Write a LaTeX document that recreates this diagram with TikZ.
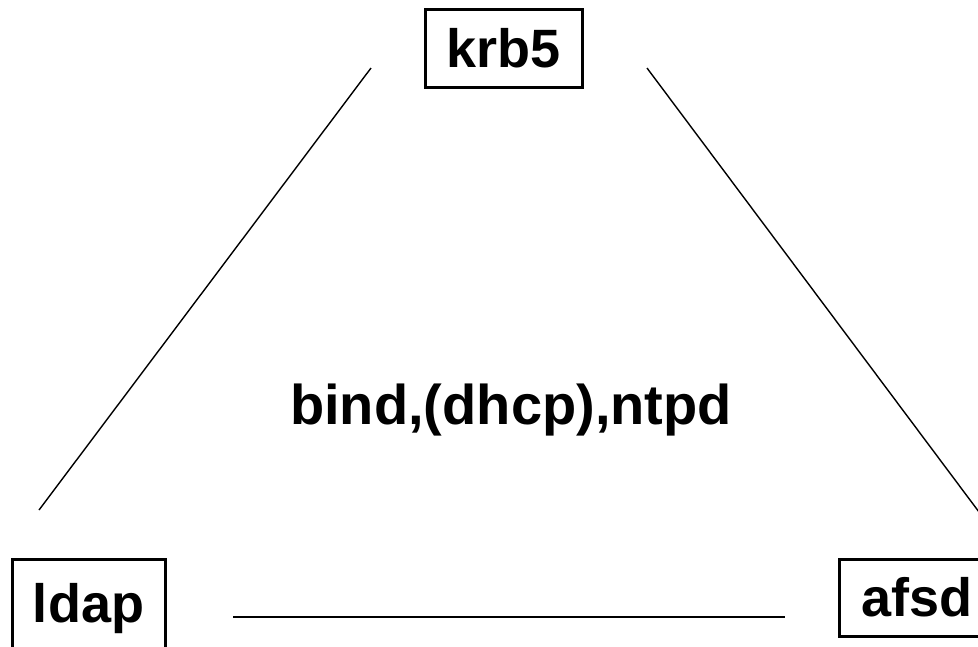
\documentclass[tikz,border=0pt]{standalone}
\usepackage{fontspec}
\setmainfont{Liberation Sans}
\begin{document}
\begin{tikzpicture}[x=1pt,y=-1pt,
  box/.style={draw=black,line width=3pt,inner sep=0pt,font=\fontsize{54}{60}\selectfont\bfseries},
  label/.style={inner sep=0pt,font=\fontsize{56}{62}\selectfont\bfseries},
  link/.style={draw=black,line width=1.4pt}]
\useasboundingbox (0,0) rectangle (978,646);
\clip (0,0) rectangle (978,646);
\node[box,minimum width=157pt,minimum height=78pt] (krb) at (503.5,48) {krb5};
\node[box,minimum width=153pt,minimum height=100pt] (ldap) at (88.5,609) {ldap};
\node[box,minimum width=156pt,minimum height=77pt] (afsd) at (917,597.5) {afsd};
\node[label] (mid) at (511,410) {bind,(dhcp),ntpd};
\coordinate (kl) at (371,68);
\coordinate (lk) at (39,510);
\coordinate (ka) at (647,68);
\coordinate (ak) at (979,512);
\coordinate (la) at (233,617);
\coordinate (al) at (785,617);
\draw[link] (kl) -- (lk);
\draw[link] (ka) -- (ak);
\draw[draw=black,line width=2.2pt] (la) -- (al);
\end{tikzpicture}
\end{document}
